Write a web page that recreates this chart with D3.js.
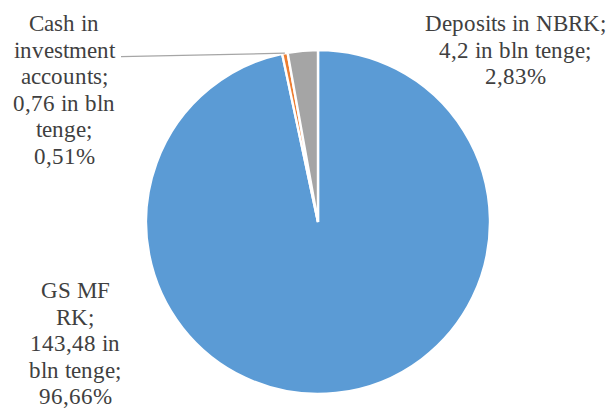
<!DOCTYPE html>
<html>
<head>
<meta charset="utf-8">
<script src="https://cdn.jsdelivr.net/npm/d3@7"></script>
<style>
  @font-face { font-family: "LabelSerif"; src: local("Liberation Serif"), local("LiberationSerif"), local("Liberation Serif Regular"), local("LiberationSerif-Regular"); }
</style>
</head>
<body style="margin:0">
<script>
// data
const categories = ["GS MF RK", "Cash in investment accounts", "Deposits in NBRK"];
const values = [143.48, 0.76, 4.2];
const percents = ["96,66%", "0,51%", "2,83%"];
const labelLines = [
    ["GS MF", "RK;", "143,48 in", "bln tenge;", "96,66%"],
    ["Cash in", "investment", "accounts;", "0,76 in bln", "tenge;", "0,51%"],
    ["Deposits in NBRK;", "4,2 in bln tenge;", "2,83%"]
];
const colors = ["#5b9bd5", "#ed7d31", "#a5a5a5"];

const width = 613, height = 412;
const cx = 318, cy = 222, radius = 172;
const lineHeight = 26.6;

const svg = d3.select("body")
    .append("svg")
    .attr("width", width)
    .attr("height", height);

// ---- LABELS ----
// one text per line
labelLines.forEach((lines, i) => {
    svg.selectAll(".lbl-" + i)
        .data(lines)
        .enter()
        .append("text")
        .attr("class", "lbl-" + i)
        .attr("x", (s, j) => [75, 64, 515][i])
        .attr("y", (s, j) => [298, 31, 31][i] + j * lineHeight)
        .style("font-family", "LabelSerif, 'Liberation Serif'")
        .style("font-size", "23px")
        .style("fill", "#404040")
        .style("text-anchor", "middle")
        .text(s => s);
});

const g = svg.append("g")
    .attr("transform", "translate(" + cx + "," + cy + ")");

const pie = d3.pie()
    .sort(null)
    .value(d => d);

const arc = d3.arc()
    .innerRadius(0)
    .outerRadius(radius);

const arcs = pie(values);

// ---- SLICES ----
g.selectAll(".slice")
    .data(arcs)
    .enter()
    .append("path")
    .attr("class", "slice")
    .attr("d", arc)
    .attr("fill", (d, i) => colors[i])
    .style("stroke", "#fff")
    .style("stroke-width", "2.4px");

// leader line for the small orange slice
const small = arcs[1];
const mid = (small.startAngle + small.endAngle) / 2;
svg.append("line")
    .attr("x1", 121)
    .attr("y1", 31 + lineHeight - 1)
    .attr("x2", cx + radius * Math.sin(mid))
    .attr("y2", cy - radius * Math.cos(mid))
    .style("stroke", "#a6a6a6")
    .style("stroke-width", "1.3px");
</script>
</body>
</html>
